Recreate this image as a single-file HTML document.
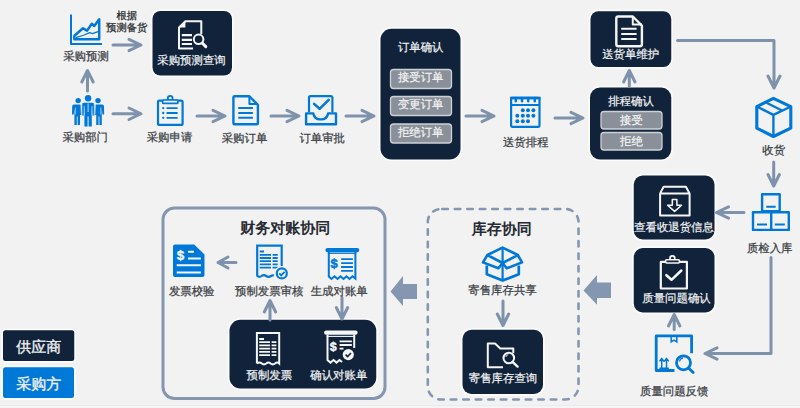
<!DOCTYPE html>
<html><head><meta charset="utf-8">
<style>
html,body{margin:0;padding:0;background:#f2f2f2;width:800px;height:408px;overflow:hidden}
svg{position:absolute;left:0;top:0;font-family:"Liberation Sans",sans-serif;text-rendering:geometricPrecision}
.t{font-size:11.4px;fill:#3a3e45;stroke:#3a3e45;stroke-width:0.25}
.w{font-size:11.4px;fill:#f4f4f4;stroke:#f4f4f4;stroke-width:0.2}
.b{font-size:15px;font-weight:bold;fill:#262b33}
</style></head><body>
<svg width="800" height="408" viewBox="0 0 800 408">
<rect x="0" y="405" width="800" height="1" fill="#ebebeb"/><rect x="0" y="406" width="800" height="2" fill="#f5f5f5"/>
<!-- dark boxes -->
<g fill="#fbfbfb">
<rect x="150.7" y="9.2" width="83.1" height="68.1" rx="9.8"/>
<rect x="378.7" y="26.95" width="83.6" height="134.35" rx="12.8"/>
<rect x="588.7" y="9.45" width="84.35" height="59.35" rx="9.8"/>
<rect x="588.2" y="85.7" width="84.85" height="75.6" rx="11.8"/>
<rect x="631.95" y="173.7" width="84.35" height="67.6" rx="10.8"/>
<rect x="631.95" y="246.2" width="84.35" height="68.1" rx="10.8"/>
<rect x="460.7" y="327.95" width="84.1" height="67.85" rx="10.8"/>
<rect x="227.7" y="317.95" width="150.35" height="72.35" rx="12.8"/>
<rect x="1.2" y="328.45" width="74.85" height="34.35" rx="4.3"/>
<rect x="1.2" y="365.45" width="74.6" height="34.35" rx="4.3"/>
</g>
<g fill="#11233b">
<rect x="152.5" y="11" width="79.5" height="64.5" rx="8"/>
<rect x="380.5" y="28.75" width="80" height="130.75" rx="11"/>
<rect x="590.5" y="11.25" width="80.75" height="55.75" rx="8"/>
<rect x="590" y="87.5" width="81.25" height="72" rx="10"/>
<rect x="633.75" y="175.5" width="80.75" height="64" rx="9"/>
<rect x="633.75" y="248" width="80.75" height="64.5" rx="9"/>
<rect x="462.5" y="329.75" width="80.5" height="64.25" rx="9"/>
<rect x="229.5" y="319.75" width="146.75" height="68.75" rx="11"/>
<rect x="3" y="330.25" width="71.25" height="30.75" rx="2.5"/>
</g>
<rect x="3" y="367.25" width="71" height="30.75" rx="2.5" fill="#0078d7"/>
<!-- buttons -->
<g fill="#8a9099" stroke="#cdd1d6" stroke-width="1.3">
<rect x="390.5" y="69.5" width="61" height="19" rx="3"/>
<rect x="390.5" y="96.5" width="61" height="19" rx="3"/>
<rect x="390.5" y="124" width="61" height="19" rx="3"/>
<rect x="601" y="111.5" width="61" height="17.5" rx="3"/>
<rect x="601" y="132.5" width="61" height="17.5" rx="3"/>
</g>
<!-- frames -->
<rect x="163" y="208" width="222" height="190.5" rx="11.5" fill="none" stroke="#8496b0" stroke-width="3"/>
<rect x="427.8" y="209" width="150.7" height="190.5" rx="13" fill="none" stroke="#8496b0" stroke-width="2.6" stroke-dasharray="5.5 7" stroke-dashoffset="-1.5" stroke-linecap="round"/>
<!-- big arrows -->
<g fill="#8496b0">
<path d="M390.5 291.5 L403 276 L403 284 L417 284 L417 299 L403 299 L403 306 Z"/>
<path d="M583.5 290.5 L597 275 L597 282.5 L611 282.5 L611 298 L597 298 L597 304.7 Z"/>
</g>
<!-- small arrows -->
<g stroke="#7f92ac" stroke-width="3" fill="none" stroke-linecap="round" stroke-linejoin="round">
<path d="M113 113.75 H140 M129 108 L141 113.75 L129 119.5"/>
<path d="M197 116 H224 M213 110.3 L225 116 L213 121.7"/>
<path d="M271 116 H298 M287 110.3 L299 116 L287 121.7"/>
<path d="M346 116 H373 M362 110.3 L374 116 L362 121.7"/>
<path d="M466 116 H494 M482 110.3 L494 116 L482 121.7"/>
<path d="M555 118 H582 M571 112.3 L583 118 L571 123.7"/>
<path d="M113 45 H140 M129 39.3 L141 45 L129 50.7"/>
<path d="M87.5 91 V71 M81.8 82 L87.5 70.5 L93.2 82"/>
<path d="M629.3 86 V71 M623.6 82 L629.3 70.5 L635 82"/>
<path d="M677.5 40.5 H774 V87 M768 76 L774 88 L780 76"/>
<path d="M773.7 162 V185.5 M768 174.5 L773.7 186 L779.4 174.5"/>
<path d="M744 212.5 H716.5 M728.5 206.8 L716.5 212.5 L728.5 218.2"/>
<path d="M771 257.5 V353.5 H705 M717 347.8 L705 353.5 L717 359.2"/>
<path d="M674.2 329.5 V314.5 M668.5 326 L674.2 314.5 L679.9 326"/>
<path d="M503 301 V325 M497.3 314 L503 325.5 L508.7 314"/>
<path d="M236 262.5 H218 M228 257 L218 262.5 L228 268"/>
<path d="M270 320 V301 M264.3 312 L270 300.5 L275.7 312"/>
<path d="M342 297.5 V318.5 M336.3 307.5 L342 319 L347.7 307.5"/>
</g>
<!-- text -->
<g text-anchor="middle">
<text class="t" x="86" y="59.5">采购预测</text>
<text class="t" x="126.7" y="18.7" style="font-size:10.3px;fill:#26292e;stroke:#26292e">根据</text>
<text class="t" x="126.7" y="30.6" style="font-size:10.3px;fill:#26292e;stroke:#26292e">预测备货</text>
<text class="w" x="191.5" y="64">采购预测查询</text>
<text class="t" x="85.2" y="141">采购部门</text>
<text class="t" x="169.5" y="141.3">采购申请</text>
<text class="t" x="244.5" y="142">采购订单</text>
<text class="t" x="322.2" y="142">订单审批</text>
<text class="w" x="420.7" y="50.5">订单确认</text>
<text class="w" x="420.7" y="81.2">接受订单</text>
<text class="w" x="420.7" y="108.2">变更订单</text>
<text class="w" x="420.7" y="135.7">拒绝订单</text>
<text class="t" x="525.7" y="145.5">送货排程</text>
<text class="w" x="630.7" y="58">送货单维护</text>
<text class="w" x="631" y="104.5">排程确认</text>
<text class="w" x="631.5" y="123.5">接受</text>
<text class="w" x="631.5" y="144.5">拒绝</text>
<text class="t" x="773.7" y="154">收货</text>
<text class="w" x="674" y="230.5">查看收退货信息</text>
<text class="t" x="769.7" y="252">质检入库</text>
<text class="w" x="676.5" y="302">质量问题确认</text>
<text class="t" x="674.2" y="394.5">质量问题反馈</text>
<text class="b" x="501.7" y="233.5">库存协同</text>
<text class="t" x="502.5" y="294">寄售库存共享</text>
<text class="w" x="503" y="382">寄售库存查询</text>
<text class="b" x="285.2" y="233">财务对账协同</text>
<text class="t" x="191.7" y="294.5">发票校验</text>
<text class="t" x="269.2" y="294.5">预制发票审核</text>
<text class="t" x="339.2" y="294.5">生成对账单</text>
<text class="w" x="269.3" y="379">预制发票</text>
<text class="w" x="338.8" y="379">确认对账单</text>
<text x="38.7" y="351.5" style="font-size:15px;fill:#f0f0f0;stroke:#f0f0f0;stroke-width:0.35">供应商</text>
<text x="38.7" y="389" style="font-size:15px;fill:#f0f0f0;stroke:#f0f0f0;stroke-width:0.35">采购方</text>
</g>
<!-- ICONS -->

<g fill="none" stroke="#0078d7" stroke-linecap="butt" stroke-linejoin="round">
 <!-- chart -->
 <path d="M71 14.5 V44 H102" stroke-width="2"/>
 <path d="M74.4 39.2 V35.8 L83 28.3 L87.1 30.6 L91.8 23.8 L94.3 26 L99.2 19.2 V39.2 Z" stroke-width="2.5"/>
 <path d="M75.8 37.6 L83.5 35.2 L89.7 32.6 L92.3 33.6 L98 31.6" stroke-width="1.2"/>
 <!-- clipboard -->
 <rect x="158" y="100.6" width="24.6" height="24.3" rx="1.5" stroke-width="2.2"/>
 <circle cx="170.2" cy="98.2" r="2.4" stroke-width="1.7"/>
 <rect x="162.6" y="100" width="15.3" height="3.4" rx="1" fill="#f2f2f2" stroke-width="1.7"/>
 <path d="M163.2 108.1 h0.1 M163.2 113 h0.1 M163.2 117.8 h0.1" stroke-width="2.3" stroke-linecap="round"/>
 <path d="M166.5 108.1 H177.6 M166.5 113 H177.6 M166.5 117.8 H177.6" stroke-width="1.8"/>
 <!-- doc -->
 <path d="M234.6 96.3 H249.4 L257.9 104.8 V123 Q257.9 124.3 256.6 124.3 H234.6 Q233.4 124.3 233.4 123 V97.5 Q233.4 96.3 234.6 96.3 Z" stroke-width="2.4"/>
 <path d="M249.4 96.3 V104 H257.9" stroke-width="2"/>
 <path d="M238.3 108.1 H252.9 M238.3 113 H252.9 M238.3 117.8 H252.9" stroke-width="2"/>
 <!-- tray -->
 <path d="M309 112.3 V97.6 Q309 96.2 310.4 96.2 H331.1 Q332.4 96.2 332.4 97.6 V112.3" stroke-width="2.2"/>
 <path d="M314.1 103.9 L319.6 108.8 L328.7 99.8" stroke-width="2.6" stroke-linecap="round"/>
 <path d="M306.1 113.4 H313.3 Q314.6 119.6 320.7 119.4 Q326.9 119.6 328.1 113.4 H336 V124.3 H306.1 Z" stroke-width="2.4"/>
 <!-- calendar -->
 <rect x="511.1" y="97.9" width="28.4" height="28.9" rx="1" stroke-width="2.2"/>
 <path d="M515.75 98 V101.2 M522 98 V101.2 M528.25 98 V101.2 M534.75 98 V101.2" stroke-width="2.5" stroke-linecap="round"/>
 <path d="M511 105 H539.6" stroke-width="2"/>
 <!-- cube -->
 <path d="M773.4 98.4 L790.8 106.6 V128.2 L773.4 136.5 L756.8 128.2 V106.6 Z" stroke-width="3.1"/>
 <path d="M756.6 106.5 L773.4 114.8 L791 106.5 M773.4 114.8 V136.7" stroke-width="2.4"/>
 <path d="M766.5 102.8 L782.5 110.8" stroke-width="2.2"/>
 <!-- boxes -->
 <rect x="762.1" y="194.3" width="17.6" height="17" stroke-width="2.4"/>
 <rect x="753" y="212.3" width="35.8" height="17.6" stroke-width="2.4"/>
 <path d="M771.2 212 V230" stroke-width="2.4"/>
 <path d="M766.3 206.7 H775.7 M757 224.5 H767 M774.8 224.5 H784.8" stroke-width="2"/>
 <!-- open box -->
 <path d="M486.8 265.5 V274.3 L502.6 280.6 L518.8 274.3 V265.5" stroke-width="2.7"/>
 <path d="M487.4 255 L502.6 247.6 L517.8 255 L502.6 263 Z" stroke-width="2.6"/>
 <path d="M487.4 255 L483 262.4 L498.4 268.3 L502.6 263 L506.7 268.3 L522 262.4 L517.8 255" stroke-width="2.6"/>
 <path d="M502.6 247.6 V280.6" stroke-width="2.2"/>
 <!-- feedback -->
 <path d="M674.5 370.5 H656.2 V335.9 H691.6 V353.3" stroke-width="2.8"/>
 <circle cx="683.5" cy="362.8" r="7" stroke-width="2.8"/>
 <path d="M688.8 368.2 L693.2 372.6" stroke-width="2.8" stroke-linecap="round"/>
 <path d="M679.5 361.5 Q680 358.6 683 358.2" stroke-width="1.2"/>
 <path d="M661.7 368 V359.4 M666.5 368 V359.4 M659.5 361.4 L661.7 358.4 L663.9 361.4 M664.3 361.4 L666.5 358.4 L668.7 361.4 M659.4 368.3 H668.8" stroke-width="1.5"/>
</g>
<path d="M671.2 336 V342 L674 340.2 L676.8 342 V336" fill="none" stroke="#0078d7" stroke-width="1.5"/>
<!-- calendar dots -->
<g fill="#0078d7">
 <circle cx="522.8" cy="110.2" r="2"/><circle cx="528" cy="110.2" r="2"/><circle cx="533.4" cy="110.2" r="2"/>
 <circle cx="517.3" cy="115.8" r="2"/><circle cx="522.8" cy="115.8" r="2"/><circle cx="528" cy="115.8" r="2"/><circle cx="533.4" cy="115.8" r="2"/>
 <circle cx="517.3" cy="121.3" r="2"/><circle cx="522.8" cy="121.3" r="2"/><circle cx="528" cy="121.3" r="2"/>
</g>
<!-- people -->
<g fill="#0078d7">
 <circle cx="88.1" cy="98.3" r="3.2"/>
 <circle cx="78.2" cy="100.6" r="2.7"/>
 <circle cx="98" cy="100.6" r="2.7"/>
 <path d="M84 102.8 H92.2 Q94.2 102.8 94.4 104.8 L94.6 115.6 H92.4 L91.8 106.5 V126.5 H88.6 V116.5 H87.6 V126.5 H84.4 V106.5 L83.8 115.6 H81.6 L81.8 104.8 Q82 102.8 84 102.8 Z"/>
 <path d="M74 104.4 H80.5 L81 115 H80 V125 H77.6 V116.5 H76.8 V125 H74.4 V108 L73.8 114.6 H72 L72.2 106.2 Q72.4 104.4 74 104.4 Z"/>
 <path d="M102.2 104.4 H95.7 L95.2 115 H96.2 V125 H98.6 V116.5 H99.4 V125 H101.8 V108 L102.4 114.6 H104.2 L104 106.2 Q103.8 104.4 102.2 104.4 Z"/>
</g>
<path d="M88.1 103.5 V112" stroke="#dfefff" stroke-width="0.8"/>
<path d="M84.2 106 V115.5 M92 106 V115.5 M75.4 107.5 V114.5 M100.8 107.5 V114.5 M81.9 104 V126 M94.3 104 V126" stroke="#f2f2f2" stroke-width="0.7" opacity="0.85"/>
<!-- white icons in dark boxes -->
<g fill="none" stroke="#f6f6f6" stroke-linejoin="round">
 <!-- doc+magnifier -->
 <path d="M193 48.5 H179 V27.5 L185.4 21.2 H201.3 V34" stroke-width="2"/>
 <path d="M181.8 35.1 H192 M181.8 39.8 H192 M181.8 44 H192" stroke-width="2.2"/>
 <circle cx="198.6" cy="39.3" r="4.8" stroke-width="2"/>
 <path d="M202.2 43 L205.8 46.6" stroke-width="3" stroke-linecap="round"/>
 <!-- doc 送货单维护 -->
 <path d="M618.3 16.5 H632.8 L641.9 25.6 V44.2 Q641.9 46.2 639.9 46.2 H618.3 Q616.3 46.2 616.3 44.2 V18.5 Q616.3 16.5 618.3 16.5 Z" stroke-width="2.4"/>
 <path d="M632.8 16.5 V24.6 H641.9" stroke-width="2"/>
 <path d="M621.2 28.8 H636.6 M621.2 33.9 H636.6 M621.2 39 H636.6" stroke-width="2"/>
 <!-- box down arrow -->
 <path d="M660.1 193.4 V215.6 H689.6 V193.4 Z M660.1 193.4 L663.6 186.8 H685.9 L689.6 193.4" stroke-width="2"/>
 <path d="M672.3 199.6 H676.9 V205.2 H681.6 L674.6 211.4 L667.6 205.2 H672.3 Z" stroke-width="1.5"/>
 <!-- clipboard check -->
 <rect x="660.8" y="261.9" width="26.1" height="26.6" stroke-width="2.2"/>
 <circle cx="672.4" cy="258.2" r="2.4" stroke-width="1.7"/>
 <path d="M666.4 275.2 L671.5 279.8 L681.3 270.5" stroke-width="2.5" stroke-linecap="round"/>
 <!-- folder -->
 <path d="M503 367.2 H487.8 V343.5 H495 L500.3 348.4 H513.3 V353.2" stroke-width="2"/>
 <circle cx="508.8" cy="358" r="5.3" stroke-width="2"/>
 <path d="M512.6 362 L517.6 366.6" stroke-width="2.4" stroke-linecap="round"/>
 <path d="M505.8 357 Q506.2 355 508.2 354.6" stroke-width="1"/>
</g>
<path d="M179 27.5 L185.4 21.2 V27.5 Z" fill="#f6f6f6"/>
<rect x="665.6" y="259.8" width="13.8" height="3.2" rx="1" fill="#13233a" stroke="#f6f6f6" stroke-width="1.6"/>
<path d="M510 96.7 H540.6 V99.4 H510 Z" fill="#0078d7"/>
<!-- finance icons -->
<path d="M175 244.6 H194.2 L204.5 254.6 V275.1 Q204.5 277.1 202.5 277.1 H175 Q173 277.1 173 275.1 V246.6 Q173 244.6 175 244.6 Z" fill="#0078d7"/>
<g stroke="#f4f8fc" stroke-width="2" fill="none">
 <path d="M188 251.8 H194 M188 258.5 H200.9 M176.7 265.2 H200.9 M176.7 272.4 H200.9"/>
</g>
<text x="180.5" y="260" font-size="13.5" font-weight="bold" fill="#f4f8fc" stroke="#f4f8fc" stroke-width="0.3" text-anchor="middle">$</text>
<!-- receipt check (blue) -->
<g fill="none" stroke="#0078d7">
 <path d="M281.7 266.5 V245.7 H257.2 V275.8 Q259.2 277.8 261.5 276 Q263.8 274.2 266.2 276 Q268.5 277.8 271 276 Q272.5 275 274 275.6" stroke-width="2.2"/>
 <path d="M259.7 251.5 H264 M259.7 254.9 H271 M259.7 258 H271 M259.7 261.1 H271 M259.7 264.4 H271 M259.7 267.6 H271 M272.6 254.9 H277.7 M272.6 258 H277.7 M272.6 261.1 H277.7 M272.6 264.4 H277.7 M272.6 267.6 H277.7" stroke-width="1.8"/>
</g>
<circle cx="281.8" cy="273.4" r="7.4" fill="#f2f2f2"/>
<circle cx="281.8" cy="273.4" r="5" fill="none" stroke="#0078d7" stroke-width="2.2"/>
<path d="M279.2 273.4 L281.2 275.4 L284.6 271.8" fill="none" stroke="#0078d7" stroke-width="1.8"/>
<!-- receipt $ (blue) -->
<rect x="325.4" y="247.9" width="33.9" height="4.4" rx="2.2" fill="#0078d7"/>
<g fill="none" stroke="#0078d7">
 <path d="M327.9 253.3 H356.3" stroke-width="1.2"/>
 <path d="M328.8 252 V276.5 L331.5 279 L334.5 276.3 L337.5 279 L340.5 276.3 L343.5 279 L346.5 276.3 L349.5 279 L352.5 276.3 L355.4 278.6 V252" stroke-width="2"/>
 <path d="M341.1 259.2 H352.9 M341.1 263.1 H352.9 M341.1 267 H352.9 M341.1 270.9 H352.9" stroke-width="1.8"/>
</g>
<text x="334.2" y="267.6" font-size="13" font-weight="bold" fill="#0078d7" stroke="#0078d7" stroke-width="0.5" text-anchor="middle">$</text>
<!-- receipt (white) -->
<g fill="none" stroke="#f6f6f6">
 <path d="M256.9 363.5 V332.9 H279.2 V363.5 Q277.2 361.6 275 363.5 Q272.8 365.3 270.6 363.5 Q268.4 361.6 266.2 363.5 Q264 365.3 261.8 363.5 Q259.5 361.6 256.9 363.5" stroke-width="2"/>
 <path d="M259.2 339 H264 M259.2 342.2 H270 M259.2 345.4 H270 M259.2 348.7 H270 M259.2 351.9 H270 M259.2 355.1 H270 M271.6 342.2 H276.4 M271.6 345.4 H276.4 M271.6 348.7 H276.4 M271.6 351.9 H276.4 M271.6 355.1 H276.4" stroke-width="1.8"/>
</g>
<!-- 确认对账单 (white) -->
<rect x="324.1" y="330.6" width="33.5" height="4.2" rx="2" fill="#f6f6f6"/>
<g fill="none" stroke="#f6f6f6">
 <path d="M326.7 336.4 H355" stroke-width="1.1"/>
 <path d="M327.5 334.5 V360 L330.5 362.6 L333.5 360 L336.5 362.6 L339.5 360 L342 362" stroke-width="2"/>
 <path d="M354.2 334.5 V348" stroke-width="2"/>
 <path d="M339.6 341.4 H351.9 M339.6 345 H351.9 M339.6 348.7 H343.5" stroke-width="1.8"/>
</g>
<text x="333.2" y="350.8" font-size="12.5" font-weight="bold" fill="#f6f6f6" stroke="#f6f6f6" stroke-width="0.4" text-anchor="middle">$</text>
<circle cx="348.3" cy="354.6" r="5.6" fill="#f6f6f6"/>
<path d="M345.6 354.6 L347.6 356.6 L351 353" fill="none" stroke="#13233a" stroke-width="1.6"/>

</svg>
</body></html>
